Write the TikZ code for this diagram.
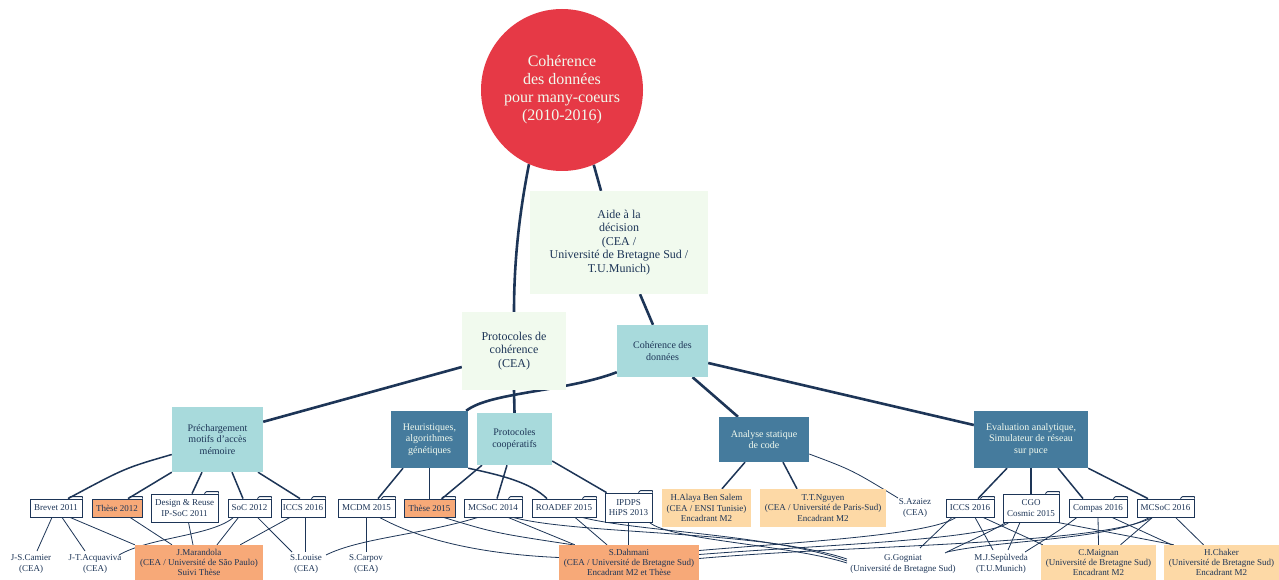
\documentclass[tikz,border=0pt]{standalone}
\usepackage{fontspec}
\setmainfont{Liberation Serif}
\usetikzlibrary{calc,backgrounds}
\definecolor{navy}{HTML}{1D3557}
\definecolor{rouge}{HTML}{E63946}
\definecolor{paleGreen}{HTML}{F1FAEE}
\definecolor{paleTeal}{HTML}{A8DADC}
\definecolor{deepTeal}{HTML}{457B9D}
\definecolor{salmon}{HTML}{F7A978}
\definecolor{peach}{HTML}{FDD9A6}
\begin{document}
\begin{tikzpicture}[x=1pt,y=-1pt,
  hub/.style={circle, fill=rouge, text=paleGreen, font=\fontsize{16}{18}\selectfont, align=center, inner sep=0pt},
  theme/.style={fill=paleGreen, text=navy, font=\fontsize{12}{13.4}\selectfont, align=center, inner sep=0pt},
  topic/.style={fill=paleTeal, text=navy, font=\fontsize{10}{11.5}\selectfont, align=center, inner sep=0pt},
  topicdark/.style={topic, fill=deepTeal, text=paleGreen},
  paper/.style={draw=navy, line width=0.8pt, fill=white, text=navy, font=\fontsize{9}{10.4}\selectfont, align=center, inner sep=0pt, minimum height=18},
  thesis/.style={paper, fill=salmon},
  member/.style={text=navy, font=\fontsize{9}{10.4}\selectfont, align=center, inner sep=1pt},
  student/.style={member, fill=salmon, inner sep=0pt},
  intern/.style={member, fill=peach, inner sep=0pt},
  foldertab/.style={draw=navy, line width=0.8pt, line join=round},
  trunkline/.style={draw=navy, line width=2.6pt},
  branchline/.style={draw=navy, line width=1.5pt},
  tieline/.style={draw=navy, line width=0.8pt}]

\useasboundingbox (0,0) rectangle (1279,580);

% root and first level
\node[hub, minimum size=162] (root) at (562,90) {Cohérence\\des données\\pour many-coeurs\\(2010-2016)};
\node[theme, minimum width=178, minimum height=103] (aide) at (619,242.5) {Aide à la\\décision\\(CEA /\\Université de Bretagne Sud /\\T.U.Munich)};
\node[theme, minimum width=104, minimum height=78] (protocoh) at (514,351) {Protocoles de\\cohérence\\(CEA)};
\node[topic, minimum width=91, minimum height=52] (cohdon) at (662.5,351) {Cohérence des\\données};

% research topics
\node[topic, minimum width=91, minimum height=65] (prech) at (217.5,439.5) {Préchargement\\motifs d’accès\\mémoire};
\node[topicdark, minimum width=77, minimum height=57] (heur) at (429.5,439.5) {Heuristiques,\\algorithmes\\génétiques};
\node[topic, minimum width=75, minimum height=52] (coop) at (514.5,439) {Protocoles\\coopératifs};
\node[topicdark, minimum width=90, minimum height=45] (analyse) at (764,439.5) {Analyse statique\\de code};
\node[topicdark, minimum width=114, minimum height=57] (evalu) at (1031,439.5) {Evaluation analytique,\\Simulateur de réseau\\sur puce};

% publications
\node[paper, minimum width=52] (brevet) at (56,508) {Brevet 2011};
\node[thesis, minimum width=50] (these12) at (117,508) {Thèse 2012};
\node[paper, minimum width=67, minimum height=28] (design) at (184.5,508) {Design \& Reuse\\IP-SoC 2011};
\node[paper, minimum width=43] (soc12) at (249.5,508) {SoC 2012};
\node[paper, minimum width=44] (iccsL) at (303,508) {ICCS 2016};
\node[paper, minimum width=57] (mcdm) at (366.5,508) {MCDM 2015};
\node[thesis, minimum width=51] (these15) at (429.5,508) {Thèse 2015};
\node[paper, minimum width=58] (mcsoc14) at (493,508) {MCSoC 2014};
\node[paper, minimum width=64] (roadef) at (564,508) {ROADEF 2015};
\node[paper, minimum width=47, minimum height=29] (ipdps) at (628.5,507.5) {IPDPS\\HiPS 2013};
\node[paper, minimum width=48] (iccsR) at (970,508) {ICCS 2016};
\node[paper, minimum width=56, minimum height=28] (cgo) at (1031,508) {CGO\\Cosmic 2015};
\node[paper, minimum width=58] (compas) at (1098,508) {Compas 2016};
\node[paper, minimum width=57] (mcsoc16) at (1165.5,508) {MCSoC 2016};

\foreach \p in {brevet,these12,design,soc12,iccsL,mcdm,these15,mcsoc14,roadef,ipdps,iccsR,cgo,compas,mcsoc16}
  \draw[foldertab] (\p.north east) -- ++(0,-2) -- ++(-12,0) -- ++(-2,2);

% people
\node[member] (camier) at (31,564) {J-S.Camier\\(CEA)};
\node[member] (acquaviva) at (95,564) {J-T.Acquaviva\\(CEA)};
\node[student, minimum width=128, minimum height=35] (marandola) at (199,562.5) {J.Marandola\\(CEA / Université de São Paulo)\\Suivi Thèse};
\node[member] (louise) at (306,564) {S.Louise\\(CEA)};
\node[member] (carpov) at (366,564) {S.Carpov\\(CEA)};
\node[student, minimum width=140, minimum height=35] (dahmani) at (629,562.5) {S.Dahmani\\(CEA / Université de Bretagne Sud)\\Encadrant M2 et Thèse};
\node[intern, minimum width=89, minimum height=38] (alaya) at (706.5,508) {H.Alaya Ben Salem\\(CEA / ENSI Tunisie)\\Encadrant M2};
\node[intern, minimum width=126, minimum height=38] (nguyen) at (823,508) {T.T.Nguyen\\(CEA / Université de Paris-Sud)\\Encadrant M2};
\node[member] (azaiez) at (915,508) {S.Azaiez\\(CEA)};
\node[member] (gogniat) at (903,564) {G.Gogniat\\(Université de Bretagne Sud)};
\node[member] (sepulveda) at (1001,564) {M.J.Sepùlveda\\(T.U.Munich)};
\node[intern, minimum width=115, minimum height=35] (maignan) at (1098.5,562.5) {C.Maignan\\(Université de Bretagne Sud)\\Encadrant M2};
\node[intern, minimum width=115, minimum height=35] (chaker) at (1221.5,562.5) {H.Chaker\\(Université de Bretagne Sud)\\Encadrant M2};

\begin{scope}[on background layer]
\fill[white] (0,0) rectangle (1279,580);

% main structure
\draw[trunkline] (root.246) .. controls (519,215) and (514,262) .. (protocoh.north);
\draw[trunkline] (root.293) -- ($(aide.north)+(-18,0)$);
\draw[trunkline] ($(aide.south)+(21,0)$) -- ($(cohdon.north)+(-9.5,0)$);
\draw[trunkline] ($(protocoh.west)+(0,16)$) -- ($(prech.north east)+(0,15)$);
\draw[trunkline] (protocoh.south) -- (coop.north);
\draw[trunkline] ($(cohdon.south west)+(0,-5)$) .. controls (565,392) and (490,392) .. ($(heur.north east)+(-2,0)$);
\draw[trunkline] ($(cohdon.south)+(30,0)$) -- ($(analyse.north)+(-26,0)$);
\draw[trunkline] ($(cohdon.east)+(0,12)$) -- ($(evalu.west)+(0,-14.5)$);

% topics to publications
\draw[branchline] ($(prech.west)+(0,15)$) .. controls (125,468) .. ($(brevet.north)+(12,0)$);
\draw[branchline] (prech.south west) -- ($(these12.north)+(11,0)$);
\draw[branchline] ($(prech.south)+(-15.5,0)$) -- ($(design.north)+(7.5,0)$);
\draw[branchline] ($(prech.south)+(14.5,0)$) -- ($(soc12.north)+(-6.5,0)$);
\draw[branchline] ($(prech.south)+(40.5,0)$) -- ($(iccsL.north)+(-3,0)$);
\draw[branchline] ($(heur.south)+(-26.5,0)$) -- ($(mcdm.north)+(11.5,0)$);
\draw[branchline] (heur.south) -- (these15.north);
\draw[branchline] (heur.south east) .. controls (500,475) and (530,482) .. ($(roadef.north)+(-17,0)$);
\draw[branchline] ($(coop.south)+(-32.5,0)$) -- ($(these15.north)+(12.5,0)$);
\draw[branchline] ($(coop.south)+(-7.5,0)$) -- ($(mcsoc14.north)+(4,0)$);
\draw[branchline] ($(coop.east)+(0,22)$) -- ($(ipdps.north west)+(2,0)$);
\draw[branchline] ($(analyse.south)+(-19,0)$) -- ($(alaya.north)+(15.5,0)$);
\draw[branchline] ($(analyse.south)+(19,0)$) -- ($(nguyen.north)+(-26,0)$);
\draw[tieline] ($(analyse.east)+(0,14.5)$) .. controls (852,470) .. ($(azaiez)+(-17,-10)$);
\draw[branchline] ($(evalu.south)+(-24,0)$) -- ($(iccsR.north)+(8,0)$);
\draw[branchline] (evalu.south) -- (cgo.north);
\draw[branchline] ($(evalu.south)+(27,0)$) -- ($(compas.north)+(-15,0)$);
\draw[branchline] (evalu.south east) -- ($(mcsoc16.north)+(-17.5,0)$);

% publications to authors, left group
\draw[tieline] ($(brevet.south)+(-4,0)$) -- ($(camier)+(6,-13)$);
\draw[tieline] ($(brevet.south)+(6,0)$) -- ($(acquaviva)+(-10,-13)$);
\draw[tieline] ($(brevet.south)+(14,0)$) -- (marandola.north west);
\draw[tieline] ($(these12.south)+(13,0)$) -- ($(marandola.north)+(-27,0)$);
\draw[tieline] ($(design.south)+(4,0)$) -- ($(marandola.north)+(-6,0)$);
\draw[tieline] ($(soc12.south)+(-11,0)$) -- ($(marandola.north)+(18,0)$);
\draw[tieline] ($(soc12.south)+(-16,0)$) .. controls (212,536) and (150,537) .. ($(acquaviva)+(24,-9)$);
\draw[tieline] ($(soc12.south)+(8,0)$) -- ($(louise)+(-14,-12)$);
\draw[tieline] ($(iccsL.south)+(-13,0)$) -- ($(marandola.north east)+(-23,0)$);
\draw[tieline] ($(iccsL.south)+(2,0)$) -- ($(louise)+(-1,-12)$);

% middle group
\draw[tieline] (mcdm.south) -- ($(carpov)+(0.5,-12)$);
\draw[tieline] ($(mcdm.south)+(13,0)$) .. controls (430,545) and (500,555) .. ($(dahmani.west)+(0,-5)$);
\draw[tieline] ($(these15.south)+(14,0)$) .. controls (495,533) .. ($(dahmani.north west)+(14,0)$);
\draw[tieline] ($(mcsoc14.south)+(-15,0)$) .. controls (420,535) and (360,538) .. ($(louise)+(20,-9)$);
\draw[tieline] ($(mcsoc14.south)+(15,0)$) -- ($(dahmani.north west)+(16,0)$);
\draw[tieline] ($(mcsoc14.south)+(20,0)$) .. controls (580,535) and (760,530) .. ($(gogniat)+(-56,-5)$);
\draw[tieline] ($(roadef.south)+(11,0)$) -- ($(dahmani.north)+(-22,0)$);
\draw[tieline] ($(roadef.south)+(18,0)$) .. controls (640,532) and (770,534) .. ($(gogniat)+(-56,-3)$);
\draw[tieline] (ipdps.south) -- ($(dahmani.north)+(-0.5,0)$);
\draw[tieline] ($(ipdps.south east)+(-3,0)$) .. controls (670,540) and (790,545) .. ($(gogniat)+(-56,-1)$);

% right group
\draw[tieline] ($(iccsR.south)+(-14,0)$) .. controls (930,535) and (800,542) .. ($(dahmani.east)+(0,-12)$);
\draw[tieline] ($(cgo.south)+(-22,0)$) .. controls (985,540) and (820,545) .. ($(dahmani.east)+(0,-8)$);
\draw[tieline] ($(mcsoc16.south)+(-13,0)$) .. controls (1100,545) and (850,545) .. ($(dahmani.east)+(0,-4)$);
\draw[tieline] ($(iccsR.south)+(-18,0)$) -- ($(gogniat)+(17,-16)$);
\draw[tieline] ($(cgo.south)+(-25,0)$) .. controls (985,535) and (960,545) .. ($(gogniat)+(42,-11)$);
\draw[tieline] ($(mcsoc16.south)+(-16,0)$) .. controls (1110,540) and (1000,540) .. ($(gogniat)+(44,-12)$);
\draw[tieline] ($(iccsR.south)+(5,0)$) -- ($(sepulveda)+(-8,-14)$);
\draw[tieline] ($(cgo.south)+(-11,0)$) -- ($(sepulveda)+(7,-14)$);
\draw[tieline] ($(compas.south)+(-21,0)$) .. controls (1060,530) .. ($(sepulveda)+(24,-12)$);
\draw[tieline] ($(iccsR.south)+(13,0)$) -- ($(maignan.north west)+(2,0)$);
\draw[tieline] (compas.south) -- (maignan.north);
\draw[tieline] ($(mcsoc16.south)+(-13,0)$) -- ($(maignan.north)+(22,0)$);
\draw[tieline] ($(cgo.south east)+(-2,0)$) -- ($(chaker.north west)+(10,0)$);
\draw[tieline] ($(compas.south)+(14,0)$) -- ($(chaker.north west)+(8,0)$);
\draw[tieline] ($(mcsoc16.south)+(10,0)$) -- ($(chaker.north)+(-18,0)$);
\end{scope}
\end{tikzpicture}
\end{document}
